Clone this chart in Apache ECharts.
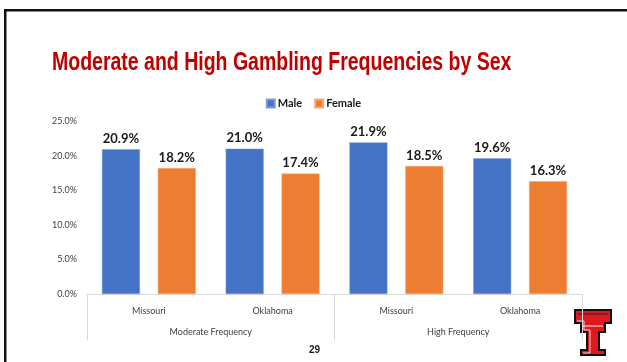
<!DOCTYPE html>
<html>
<head>
<meta charset="utf-8">
<style>
  html, body { margin: 0; padding: 0; background: #ffffff; }
  #chart { width: 627px; height: 362px; }
</style>
<script src="https://cdn.jsdelivr.net/npm/echarts@6/dist/echarts.min.js"></script>
</head>
<body>
<div id="chart"></div>
<script>
// Gambling frequency by sex, per state and frequency level
const states = ['Missouri', 'Oklahoma', 'Missouri', 'Oklahoma'];
const frequencyGroups = ['Moderate Frequency', 'High Frequency'];
const maleValues = [20.9, 21.0, 21.9, 19.6];
const femaleValues = [18.2, 17.4, 18.5, 16.3];
const seriesNames = ['Male', 'Female'];
const yTicks = [0, 5, 10, 15, 20, 25];

const chart = echarts.init(document.getElementById('chart'), null, { renderer: 'canvas' });

const labelFont = 'Lato, "Open Sans", sans-serif';
const pct = v => v.toFixed(1) + '%';

const option = {
  backgroundColor: '#ffffff',
  animation: false,
  legend: {
    data: seriesNames,
    top: 93,
    left: 'center',
    icon: 'rect',
    itemWidth: 8,
    itemHeight: 8,
    itemGap: 12,
    textStyle: { fontFamily: labelFont, fontWeight: 'bold', fontSize: 11, color: '#1a1a1a', padding: [0, 0, 0, -2] }
  },
  grid: { left: 87, right: 45, top: 121, bottom: 68, containLabel: false },
  xAxis: [
    {
      type: 'category',
      data: states,
      position: 'bottom',
      axisLine: { show: true, lineStyle: { color: '#d9d9d9', width: 1 } },
      axisTick: { show: false },
      axisLabel: { interval: 0, margin: 13, fontFamily: labelFont, fontSize: 9, color: '#404040' }
    },
    {
      type: 'category',
      data: frequencyGroups,
      position: 'bottom',
      axisLine: { show: false },
      axisTick: { show: true, length: 46, lineStyle: { color: '#d9d9d9', width: 1 } },
      axisLabel: { interval: 0, margin: 34, fontFamily: labelFont, fontSize: 9, color: '#404040' }
    }
  ],
  yAxis: {
    type: 'value',
    min: yTicks[0],
    max: yTicks[yTicks.length - 1],
    interval: 5,
    axisLine: { show: false },
    axisTick: { show: false },
    splitLine: { show: false },
    axisLabel: { margin: 10, fontFamily: labelFont, fontSize: 9, color: '#404040', formatter: pct }
  },
  series: [
    {
      name: seriesNames[0],
      type: 'bar',
      xAxisIndex: 0,
      data: maleValues,
      barWidth: 38,
      barGap: '47%',
      itemStyle: { color: '#4472c4', borderColor: '#7c9bd6', borderWidth: 0.5 },
      label: {
        show: true, position: 'top', distance: 4,
        fontFamily: labelFont, fontWeight: 'bold', fontSize: 13, color: '#1a1a1a',
        formatter: p => pct(p.value)
      }
    },
    {
      name: seriesNames[1],
      type: 'bar',
      xAxisIndex: 0,
      data: femaleValues,
      barWidth: 38,
      barGap: '47%',
      itemStyle: { color: '#ed7d31', borderColor: '#f3a878', borderWidth: 0.5 },
      label: {
        show: true, position: 'top', distance: 4,
        fontFamily: labelFont, fontWeight: 'bold', fontSize: 13, color: '#1a1a1a',
        formatter: p => pct(p.value)
      }
    }
  ],
  graphic: [
    // slide frame (top and left edges)
    { type: 'rect', shape: { x: 4, y: 9, width: 623, height: 2.5 }, style: { fill: '#111111' }, z: 100 },
    { type: 'rect', shape: { x: 4, y: 9, width: 2.5, height: 353 }, style: { fill: '#111111' }, z: 100 },
    // slide title
    {
      type: 'text', left: 52, top: 51, scaleX: 0.78, z: 100,
      style: {
        text: 'Moderate and High Gambling Frequencies by Sex',
        font: 'bold 25px "Liberation Sans", Arial, sans-serif',
        fill: '#c00000'
      }
    },
    // page number
    {
      type: 'text', left: 309, top: 345, z: 100,
      style: { text: '29', font: 'bold 10px "Liberation Sans", Arial, sans-serif', fill: '#1a1a1a' }
    },
    // Double T emblem
    {
      type: 'group', z: 1,
      children: [
        { type: 'polygon', shape: { points: [[574,309],[612,309],[612,324],[606,324],[606,333],[600,333],[600,349],[606,349],[606,356],[580,356],[580,349],[586,349],[586,333],[580,333],[580,324],[574,324]] }, style: { fill: '#111111' } },
        { type: 'polygon', shape: { points: [[576,311],[610,311],[610,322],[604,322],[604,331],[598,331],[598,351],[604,351],[604,354],[582,354],[582,351],[588,351],[588,331],[582,331],[582,322],[576,322]] }, style: { fill: '#e0191f' } },
        { type: 'polyline', shape: { points: [[577,321],[584,321],[584,330],[590,330],[590,353],[583,353]] }, style: { stroke: '#d8d8d8', lineWidth: 1, fill: null } },
        { type: 'polyline', shape: { points: [[583,326],[603,326]] }, style: { stroke: '#f0f0f0', lineWidth: 1 } },
        { type: 'polyline', shape: { points: [[578,314],[608,314]] }, style: { stroke: '#222222', lineWidth: 1 } }
      ]
    }
  ]
};

chart.setOption(option);
</script>
</body>
</html>
